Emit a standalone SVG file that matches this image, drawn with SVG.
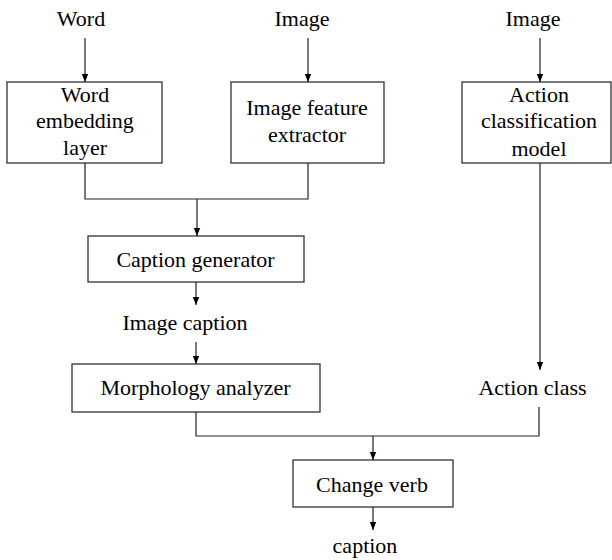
<svg xmlns="http://www.w3.org/2000/svg" width="612" height="560" viewBox="0 0 612 560">
<defs>
<marker id="ah" markerWidth="8" markerHeight="8" refX="8" refY="4" orient="auto" markerUnits="userSpaceOnUse">
<path d="M0,0.8 L8,4 L0,7.2 Z" fill="#000"/>
</marker>
<style>
text{font-family:'Liberation Serif','Times New Roman',serif;font-size:22px;fill:#000;text-anchor:middle}
.b{fill:#fff;stroke:#222;stroke-width:1.2}
.c{fill:none;stroke:#222;stroke-width:1.2}
.a{marker-end:url(#ah)}
</style>
</defs>
<rect width="612" height="560" fill="#fff"/>
<g font-family="Liberation Serif, Times New Roman, serif" font-size="22" text-anchor="middle">
<g id="in-word"><text x="81" y="26">Word</text></g>
<g id="in-image1"><text x="302" y="26">Image</text></g>
<g id="in-image2"><text x="533" y="26">Image</text></g>
<g id="word-embedding"><rect class="b" x="7" y="82" width="155" height="81"/>
<text x="85" y="102">Word</text><text x="85" y="128">embedding</text><text x="85" y="155">layer</text></g>
<g id="image-feature"><rect class="b" x="231" y="82" width="153" height="81"/>
<text x="307" y="115">Image feature</text><text x="307" y="142">extractor</text></g>
<g id="action-model"><rect class="b" x="462" y="82" width="149" height="81"/>
<text x="539" y="102">Action</text><text x="539" y="128">classification</text><text x="539" y="156">model</text></g>
<g id="caption-gen"><rect class="b" x="88" y="236" width="216" height="46"/>
<text x="195.5" y="267">Caption generator</text></g>
<g id="image-caption"><text x="185" y="330">Image caption</text></g>
<g id="morph"><rect class="b" x="72" y="364" width="248" height="48"/>
<text x="195.5" y="395">Morphology analyzer</text></g>
<g id="action-class"><text x="532.5" y="395">Action class</text></g>
<g id="change-verb"><rect class="b" x="293" y="460" width="160" height="47"/>
<text x="372" y="492">Change verb</text></g>
<g id="out-caption"><text x="365" y="553">caption</text></g>
</g>
<g id="connectors">
<line class="c a" x1="85" y1="38" x2="85" y2="82"/>
<line class="c a" x1="308" y1="38" x2="308" y2="82"/>
<line class="c a" x1="540" y1="38" x2="540" y2="82"/>
<polyline class="c" points="85,163 85,199 308,199 308,163"/>
<line class="c a" x1="197" y1="199" x2="197" y2="236"/>
<line class="c a" x1="196" y1="282" x2="196" y2="305"/>
<line class="c a" x1="196" y1="342" x2="196" y2="364"/>
<line class="c a" x1="540" y1="163" x2="540" y2="370"/>
<polyline class="c" points="196,412 196,436 539,436 539,407"/>
<line class="c a" x1="373" y1="436" x2="373" y2="460"/>
<line class="c a" x1="373" y1="507" x2="373" y2="530"/>
</g>
</svg>
